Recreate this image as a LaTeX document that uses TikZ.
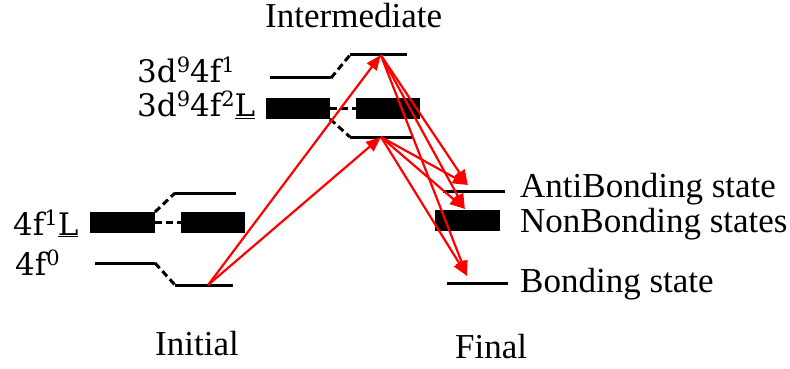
\documentclass[tikz,border=0pt]{standalone}
\usepackage{fontspec}
\setmainfont{Liberation Serif}
\newfontfamily\configfont{DejaVu Serif}
\usepackage{tikz}
\usetikzlibrary{arrows.meta,calc}
\definecolor{jumpred}{HTML}{FF0000}
\newcommand{\cfgsup}[1]{\raisebox{10pt}{\fontsize{21}{24}\selectfont #1}}
\tikzset{
  lvl/.style={fill=black, inner sep=0pt, outer sep=0pt, minimum height=3pt},
  lvlband/.style={lvl, minimum height=21pt},
  mixing/.style={line width=3pt, dash pattern=on 7pt off 4pt},
  jump/.style={-{Triangle[length=15pt,width=12pt]}, line width=2.2pt, draw=jumpred},
  statetext/.style={anchor=base west, inner sep=0pt, font=\fontsize{35}{40}\selectfont},
  configtext/.style={anchor=base west, inner sep=0pt, font=\configfont\fontsize{31}{36}\selectfont}
}

\begin{document}
\begin{tikzpicture}[x=1pt, y=-1pt]
  \useasboundingbox (0,0) rectangle (790,369);
  \node[lvlband, minimum width=65pt] (iL) at (122.5,222.5) {};
  \node[lvlband, minimum width=64pt] (iR) at (213,222.5) {};
  \node[lvl, minimum width=61pt] (iup) at (205.5,193) {};
  \node[lvl, minimum width=60pt] (i0) at (125,263) {};
  \node[lvl, minimum width=58pt] (ig) at (204,285) {};
  \node[lvl, minimum width=61pt] (m1) at (300.5,78) {};
  \node[lvl, minimum width=57pt] (mup) at (378.5,55) {};
  \node[lvlband, minimum width=64pt] (mL) at (298,108.5) {};
  \node[lvlband, minimum width=64pt] (mR) at (388,108.5) {};
  \node[lvl, minimum width=62pt] (mlo) at (381,137) {};
  \node[lvl, minimum width=62pt] (fab) at (474,191) {};
  \node[lvlband, minimum width=65pt] (fnb) at (467.5,220.5) {};
  \node[lvl, minimum width=61pt] (fb) at (477.5,283) {};
  \draw[mixing] (iL.north east) -- (iup.west); \draw[mixing] (iL.east) -- (iR.west); \draw[mixing] (i0.east) -- (ig.west);
  \draw[mixing] (m1.east) -- (mup.west); \draw[mixing] (mL.east) -- (mR.west); \draw[mixing] (mL.south east) -- (mlo.west);
  \node[configtext] (l4f1L) at (13,235) {4f\cfgsup{1}\underline{L}};
  \node[configtext] (l4f0) at (15,275) {4f\cfgsup{0}};
  \node[configtext] (l3d4f1) at (137,83) {3d\cfgsup{9}4f\cfgsup{1}};
  \node[configtext] (l3d4f2L) at (137,117) {3d\cfgsup{9}4f\cfgsup{2}\underline{L}};
  \node[statetext] (lint) at (265,28) {Intermediate};
  \node[statetext] (lini) at (155,355) {Initial};
  \node[statetext] (lfin) at (455,358) {Final};
  \node[statetext] (lab) at (520,197) {AntiBonding state};
  \node[statetext] (lnb) at (520,232) {NonBonding states};
  \node[statetext] (lb) at (520,292) {Bonding state};
  \coordinate (gs) at ($(ig.west)!0.57!(ig.east)$);
  \coordinate (xup) at ($(mup.west)!0.54!(mup.east)$);
  \coordinate (xlo) at ($(mlo.west)!0.5!(mlo.east)$);
  \coordinate (pab) at ($(fab.west)!0.4!(fab.east)+(0,-6)$);
  \coordinate (pnb) at ($(fnb.north west)!0.46!(fnb.north east)+(0,-1)$);
  \coordinate (pb) at ($(fb.west)!0.33!(fb.east)+(0,-7)$);
  \draw[jump] (gs) -- (xup); \draw[jump] (gs) -- (xlo);
  \draw[jump] (xup) -- (pab); \draw[jump] (xup) -- (pnb); \draw[jump] (xup) -- (pb);
  \draw[jump] (xlo) -- (pab); \draw[jump] (xlo) -- (pnb); \draw[jump] (xlo) -- (pb);
\end{tikzpicture}
\end{document}
